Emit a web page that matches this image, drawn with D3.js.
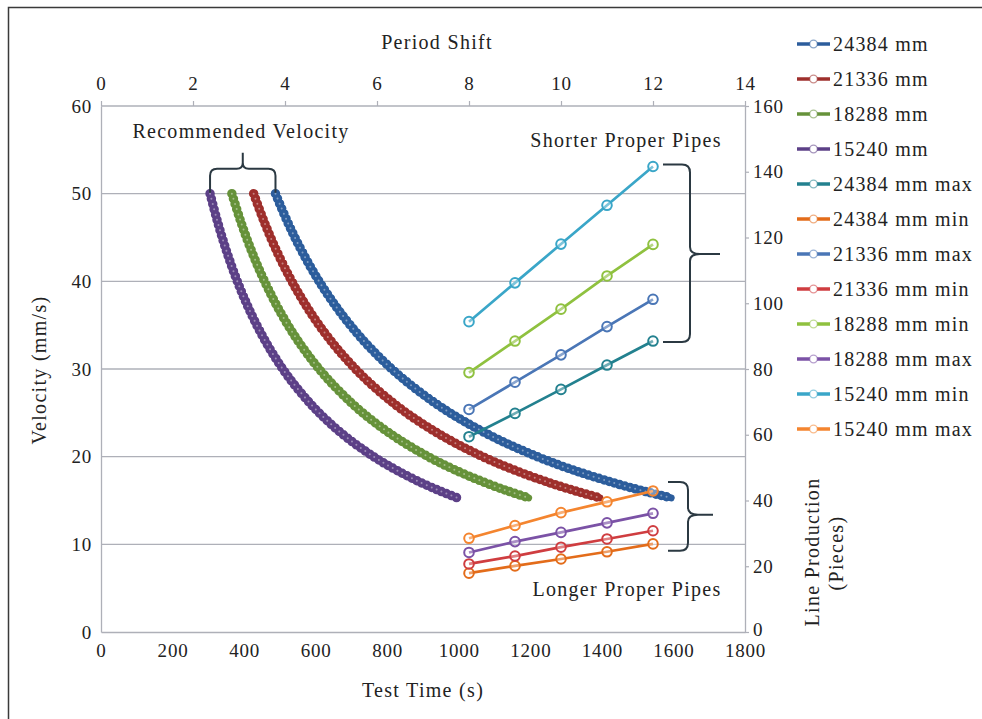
<!DOCTYPE html>
<html>
<head>
<meta charset="utf-8">
<script src="https://cdn.jsdelivr.net/npm/d3@7"></script>
<style>
  body { margin: 0; background: #fff; }
  svg text { font-family: "Liberation Serif", "Times New Roman", serif; fill: #222; }
</style>
</head>
<body>
<div id="chart"></div>
<script>
// velocity curves: test time (s) at sampled velocities (mm/s)
var velocity = [50, 47, 44, 41, 38, 35, 32, 29, 26, 24, 22, 20, 18.5, 17, 16, 15.3];
var time24384 = [487.7, 518.8, 554.2, 594.7, 641.7, 696.7, 762.0, 840.8, 937.8, 1016.0, 1108.4, 1219.2, 1318.1, 1434.4, 1524.0, 1593.7];
var time21336 = [426.7, 454.0, 484.9, 520.4, 561.5, 609.6, 666.8, 735.7, 820.6, 889.0, 969.8, 1066.8, 1153.3, 1255.1, 1333.5, 1394.5];
var time18288 = [365.8, 389.1, 415.6, 446.0, 481.3, 522.5, 571.5, 630.6, 703.4, 762.0, 831.3, 914.4, 988.5, 1075.8, 1143.0, 1195.3];
var time15240 = [304.8, 324.3, 346.4, 371.7, 401.1, 435.4, 476.3, 525.5, 586.2, 635.0, 692.7, 762.0, 823.8, 896.5, 952.5, 996.1];

// line production (pieces) vs period shift
var periodShift = [8, 9, 10, 11, 12];
var max24384 = [59.4, 66.5, 73.8, 81.2, 88.5];
var min24384 = [17.9, 20.1, 22.2, 24.4, 26.8];
var max21336 = [67.7, 76.0, 84.3, 92.9, 101.2];
var min21336 = [20.7, 23.1, 25.8, 28.3, 30.8];
var min18288 = [78.9, 88.5, 98.2, 108.3, 117.9];
var max18288 = [24.2, 27.5, 30.3, 33.2, 36.1];
var min15240 = [94.4, 106.2, 118.0, 129.8, 141.6];
var max15240 = [28.5, 32.4, 36.3, 39.6, 42.9];

var timeTicks = [0, 200, 400, 600, 800, 1000, 1200, 1400, 1600, 1800];
var velocityTicks = [0, 10, 20, 30, 40, 50, 60];
var shiftTicks = [0, 2, 4, 6, 8, 10, 12, 14];
var pieceTicks = [0, 20, 40, 60, 80, 100, 120, 140, 160];

var curveSeries = [
  {name: '24384 mm', color: '#2c5d9c', t: time24384},
  {name: '21336 mm', color: '#9e2f2c', t: time21336},
  {name: '18288 mm', color: '#66923a', t: time18288},
  {name: '15240 mm', color: '#5c4087', t: time15240}
];
var lineSeries = [
  {name: '24384 mm max', color: '#23818f', v: max24384},
  {name: '24384 mm min', color: '#e36c1a', v: min24384},
  {name: '21336 mm max', color: '#4a76b6', v: max21336},
  {name: '21336 mm min', color: '#cf3d40', v: min21336},
  {name: '18288 mm min', color: '#8fc13f', v: min18288},
  {name: '18288 mm max', color: '#7b52a6', v: max18288},
  {name: '15240 mm min', color: '#3aa6c8', v: min15240},
  {name: '15240 mm max', color: '#f4852f', v: max15240}
];

var svg = d3.select('#chart')
  .append('svg')
  .attr('width', 982)
  .attr('height', 719)

var x = d3.scaleLinear().domain([0, 1800]).range([101, 745])
var xTop = d3.scaleLinear().domain([0, 14]).range([101, 745])
var y = d3.scaleLinear().domain([0, 60]).range([632, 106])
var yR = d3.scaleLinear().domain([0, 160]).range([632, 106])

// outer frame
svg.append('path')
  .attr('d', 'M8.5,719 V7.5 H982')
  .attr('fill', 'none')
  .attr('stroke', '#3a3a3a')
  .attr('stroke-width', 1.5)

var grey = '#aeb0b8'

// gridlines
svg.append('g')
  .selectAll('line')
  .data(velocityTicks.slice(1))
  .enter()
  .append('line')
  .attr('x1', x(0))
  .attr('x2', x(1800))
  .attr('y1', function(d){return y(d)})
  .attr('y2', function(d){return y(d)})
  .attr('stroke', grey)
  .attr('stroke-width', 1.3)

function styleAxis(g, size){
  g.select('.domain').attr('stroke', grey).attr('stroke-width', 1.3)
  g.selectAll('.tick line').attr('stroke', grey).attr('stroke-width', 1.2)
  g.selectAll('text')
    .style('font-family', '"Liberation Serif", serif')
    .style('font-size', size + 'px')
    .style('letter-spacing', '0.8px')
    .attr('fill', '#222')
}

var gBottom = svg.append('g')
  .attr('transform', 'translate(0,' + y(0) + ')')
  .call(d3.axisBottom(x).tickValues(timeTicks).tickFormat(d3.format('d')).tickSize(0).tickPadding(12).tickSizeOuter(0))
styleAxis(gBottom, 19)

var gLeft = svg.append('g')
  .attr('transform', 'translate(' + x(0) + ',0)')
  .call(d3.axisLeft(y).tickValues(velocityTicks).tickSize(0).tickPadding(9).tickSizeOuter(0))
styleAxis(gLeft, 19)

var gRight = svg.append('g')
  .attr('transform', 'translate(' + x(1800) + ',0)')
  .call(d3.axisRight(yR).tickValues(pieceTicks).tickSize(4).tickPadding(4).tickSizeOuter(0))
styleAxis(gRight, 19)
gRight.selectAll('.tick text').filter(function(d){return d === 0}).attr('dy', '0.2em')

var gTop = svg.append('g')
  .attr('transform', 'translate(0,' + y(60) + ')')
  .call(d3.axisTop(xTop).tickValues(shiftTicks).tickSize(5).tickPadding(11).tickSizeOuter(0))
styleAxis(gTop, 19)
gTop.select('.domain').remove()

// axis titles
function label(txt, px, py, rot){
  var t = svg.append('text')
    .attr('text-anchor', 'middle')
    .attr('dy', '0.35em')
    .style('font-size', '20px')
    .style('letter-spacing', '1.3px')
    .text(txt)
  if (rot) t.attr('transform', 'translate(' + px + ',' + py + ') rotate(-90)')
  else t.attr('x', px).attr('y', py)
  return t
}
label('Period Shift', 437, 42)
label('Test Time (s)', 423, 690)
label('Velocity (mm/s)', 39, 370, true)
label('Line Production', 812, 552, true)
label('(Pieces)', 836, 553, true)
label('Recommended Velocity', 241, 131)
label('Shorter Proper Pipes', 626, 140)
label('Longer Proper Pipes', 627, 589)

// velocity curves drawn as a chain of rings
var curveLine = d3.line()
  .x(function(d){return x(d[0])})
  .y(function(d){return y(d[1])})
  .curve(d3.curveCatmullRom.alpha(0.5))

var curves = svg.append('g').attr('class', 'curves')
curveSeries.forEach(function(s){
  var pts = s.t.map(function(t, i){return [t, velocity[i]]})
  curves.append('path')
    .attr('d', curveLine(pts))
    .attr('fill', 'none')
    .attr('stroke', s.color)
    .attr('stroke-width', 7)
    .attr('stroke-linecap', 'round')
  curves.append('path')
    .attr('d', curveLine(pts))
    .attr('fill', 'none')
    .attr('stroke', s.color)
    .attr('stroke-width', 9.5)
    .attr('stroke-dasharray', '0,5.4')
    .attr('stroke-linecap', 'round')
  curves.append('path')
    .attr('d', curveLine(pts))
    .attr('fill', 'none')
    .attr('stroke', '#fff')
    .attr('stroke-opacity', 0.4)
    .attr('stroke-width', 2)
    .attr('stroke-dasharray', '0,5.4')
    .attr('stroke-linecap', 'round')
})

// production lines
var prodLine = d3.line()
  .x(function(d){return xTop(d[0])})
  .y(function(d){return yR(d[1])})

var lines = svg.append('g').attr('class', 'lines')
lineSeries.forEach(function(s){
  var pts = s.v.map(function(v, i){return [periodShift[i], v]})
  lines.append('path')
    .attr('d', prodLine(pts))
    .attr('fill', 'none')
    .attr('stroke', s.color)
    .attr('stroke-width', 2.7)
  lines.selectAll(null)
    .data(pts)
    .enter()
    .append('circle')
    .attr('cx', function(d){return xTop(d[0])})
    .attr('cy', function(d){return yR(d[1])})
    .attr('r', 4.8)
    .attr('fill', '#fff')
    .attr('fill-opacity', 0.35)
    .attr('stroke', s.color)
    .attr('stroke-width', 2)
})

// braces
var braceColor = '#2b3942'
function vBrace(x0, xs, xt, y1, ym, y2){
  var r = 8
  return 'M' + x0 + ',' + y1 + ' H' + (xs - r) + ' Q' + xs + ',' + y1 + ' ' + xs + ',' + (y1 + r) +
    ' V' + (ym - 7) + ' Q' + xs + ',' + ym + ' ' + (xs + 10) + ',' + ym + ' H' + xt +
    ' M' + (xs + 10) + ',' + ym + ' Q' + xs + ',' + ym + ' ' + xs + ',' + (ym + 7) +
    ' V' + (y2 - r) + ' Q' + xs + ',' + y2 + ' ' + (xs - r) + ',' + y2 + ' H' + x0
}
svg.append('path')
  .attr('d', vBrace(xTop(12) + 10, xTop(12) + 37, xTop(12) + 67, yR(141.6) - 2, yR(115), yR(88.5) + 1))
  .attr('fill', 'none').attr('stroke', braceColor).attr('stroke-width', 2)
svg.append('path')
  .attr('d', vBrace(xTop(12) + 15, xTop(12) + 35, xTop(12) + 60, yR(45.6), yR(35.7), yR(24.7)))
  .attr('fill', 'none').attr('stroke', braceColor).attr('stroke-width', 2)

// horizontal brace over the recommended velocity starts
var bx1 = x(time15240[0]), bx2 = x(time24384[0]), bm = (bx1 + bx2) / 2
var by0 = y(50) - 1, by1 = y(50) - 25, r = 7
svg.append('path')
  .attr('d', 'M' + bx1 + ',' + by0 + ' V' + (by1 + r) + ' Q' + bx1 + ',' + by1 + ' ' + (bx1 + r) + ',' + by1 +
    ' H' + (bm - 6) + ' Q' + bm + ',' + by1 + ' ' + bm + ',' + (by1 - 6) + ' V' + (by1 - 16) +
    ' M' + bm + ',' + (by1 - 6) + ' Q' + bm + ',' + by1 + ' ' + (bm + 6) + ',' + by1 +
    ' H' + (bx2 - r) + ' Q' + bx2 + ',' + by1 + ' ' + bx2 + ',' + (by1 + r) + ' V' + by0)
  .attr('fill', 'none').attr('stroke', braceColor).attr('stroke-width', 2)

// legend
var legendItems = curveSeries.concat(lineSeries)
var legend = svg.append('g')
  .selectAll('g')
  .data(legendItems)
  .enter()
  .append('g')
  .attr('transform', function(d, i){return 'translate(797,' + (44 + i * 35) + ')'})
legend.append('line')
  .attr('x1', 0).attr('x2', 33)
  .attr('stroke', function(d){return d.color})
  .attr('stroke-width', 3.4)
legend.append('circle')
  .attr('cx', 16.5).attr('r', 3.8)
  .attr('fill', '#fff')
  .attr('stroke', function(d){return d.color})
  .attr('stroke-opacity', 0.55)
  .attr('stroke-width', 1.3)
legend.append('text')
  .attr('x', 36)
  .attr('dy', '0.35em')
  .style('font-size', '20px')
  .style('letter-spacing', '1.2px')
  .text(function(d){return d.name})
</script>
</body>
</html>
